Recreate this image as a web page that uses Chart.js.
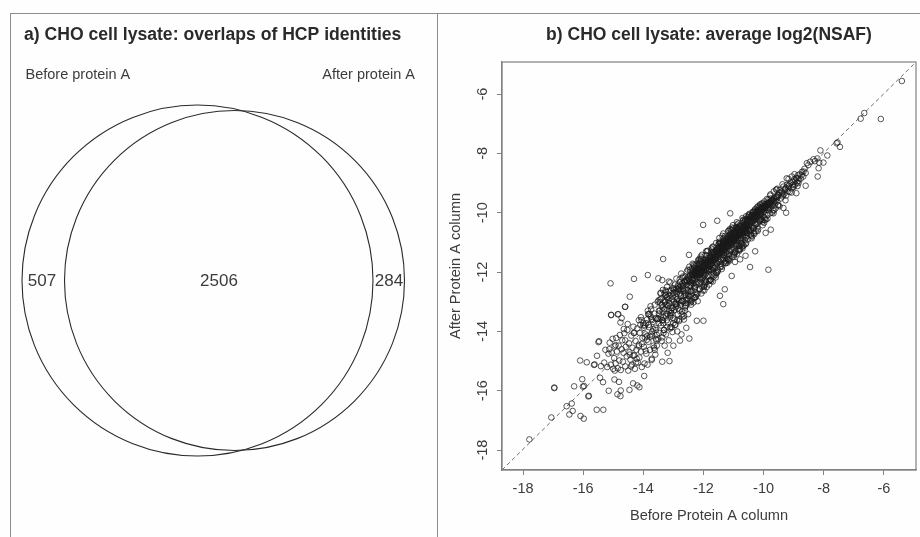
<!DOCTYPE html>
<html>
<head>
<meta charset="utf-8">
<title>CHO cell lysate</title>
<script src="https://cdn.jsdelivr.net/npm/chart.js@4/dist/chart.umd.min.js"></script>
<style>
    body { margin: 0; background: #fefefe; }
    #frame { position: absolute; left: 10px; top: 13px; width: 426px; height: 524px; border: 1px solid #8c8c8c; border-bottom: none; }
    #topline { position: absolute; left: 437px; top: 13px; width: 483px; height: 1px; background: #8c8c8c; }
    canvas { position: absolute; top: 0; }
    #venn { left: 0; }
    #scatter { left: 438px; }
</style>
</head>
<body>
<div id="frame"></div>
<div id="topline"></div>
<canvas id="venn" width="437" height="537"></canvas>
<canvas id="scatter" width="482" height="537"></canvas>
<script>
"use strict";
const vennTitle = "a) CHO cell lysate: overlaps of HCP identities";
const vennSetNames = ["Before protein A", "After protein A"];
const vennCounts = [507, 2506, 284];

const scatterTitle = "b) CHO cell lysate: average log2(NSAF)";
const xAxisName = "Before Protein A column";
const yAxisName = "After Protein A column";
const xTicks = [-18, -16, -14, -12, -10, -8, -6];
const yTicks = [-18, -16, -14, -12, -10, -8, -6];
const lineX = [-18.7, -4.93];
const lineY = [-18.67, -4.92];

// stray points, read one by one
const strayX = [-17.79,-17.06,-16.96,-16.96,-16.55,-16.38,-16.35,-16.46,-16.09,-15.98,-15.83,-15.81,
    -16.30,-16.01,-15.97,-16.03,-16.10,-15.88,-15.64,-15.62,-15.41,-15.54,-15.44,-15.34,
    -15.15,-15.55,-15.33,-14.86,-14.75,-14.76,-14.96,-14.81,-14.46,-14.34,-14.20,-14.13,
    -13.97,-14.95,-15.49,-15.47,-15.07,-14.85,-14.60,-13.37,-13.13,-12.47,-13.19,-13.72,
    -13.00,-12.78,-12.22,-12.00,-5.40,-6.65,-6.77,-6.10,-7.57,-7.54,-7.46,-8.11,
    -7.88,-8.21,-8.29,-8.45,-8.56,-8.15,-8.01,-8.17,-8.20,-8.34,-8.51,-8.67,
    -8.73,-8.60,-8.91,-9.23,-9.06,-8.90,-8.84,-9.01,-9.17,-9.29,-9.54,-9.36,
    -9.25,-9.34,-11.11,-11.54,-12.01,-9.76,-9.93,-10.45,-9.84,-13.34,-13.85,-14.31,
    -13.50,-13.37,-12.48,-14.45,-12.11,-10.28,-10.78,-10.95,-11.06,-11.29,-11.34,-11.45,
    -15.09,-15.07,-14.83,-14.61,-14.72,-15.13,-10.70,-10.60];
const strayY = [-17.64,-16.90,-15.91,-15.89,-16.52,-16.43,-16.68,-16.80,-16.85,-16.94,-16.19,-16.17,
    -15.85,-15.86,-15.84,-15.61,-14.98,-15.04,-15.13,-15.11,-15.17,-14.82,-15.56,-15.71,
    -16.00,-16.64,-16.64,-16.12,-15.99,-16.18,-15.62,-15.70,-15.97,-15.75,-15.82,-15.88,
    -15.50,-15.32,-14.36,-14.33,-13.45,-13.42,-13.17,-15.02,-15.00,-14.24,-14.72,-14.96,
    -14.48,-14.31,-13.64,-13.64,-5.56,-6.64,-6.83,-6.84,-7.66,-7.63,-7.78,-7.90,
    -8.07,-8.17,-8.26,-8.28,-8.33,-8.31,-8.31,-8.50,-8.78,-8.20,-8.39,-8.61,
    -8.73,-9.09,-9.34,-8.84,-8.78,-8.84,-9.00,-9.12,-9.17,-9.23,-9.19,-9.40,
    -10.00,-9.84,-10.02,-10.27,-10.41,-10.57,-10.68,-11.83,-11.92,-11.56,-12.10,-12.23,
    -12.21,-12.27,-11.42,-12.83,-10.96,-11.30,-11.57,-11.66,-12.13,-12.58,-13.08,-12.80,
    -12.38,-13.44,-13.42,-13.17,-13.55,-14.60,-11.20,-11.45];

// lower end of the cloud
const lowX = [-15.30,-15.26,-15.20,-15.16,-15.12,-15.08,-15.05,-15.02,-15.00,-14.97,-14.95,-14.92,
    -14.90,-14.88,-14.85,-14.82,-14.80,-14.78,-14.75,-14.72,-14.70,-14.68,-14.66,-14.63,
    -14.60,-14.58,-14.55,-14.53,-14.50,-14.48,-14.46,-14.43,-14.40,-14.38,-14.36,-14.33,
    -14.30,-14.28,-14.26,-14.23,-14.20,-14.18,-14.15,-14.13,-14.10,-14.08,-14.05,-14.03,
    -14.00,-13.98,-13.96,-13.93,-13.90,-13.88,-13.86,-13.83,-13.80,-13.78,-13.75,-13.72,
    -13.70,-13.68,-13.66,-13.63,-13.60,-13.58,-13.56,-13.53,-14.92,-14.65,-14.41,-14.24,
    -14.12,-13.95,-13.84,-13.74,-13.64,-13.55,-14.76,-14.52,-14.33,-14.06,-13.91,-13.77];
const lowY = [-15.05,-14.62,-15.20,-14.75,-14.38,-15.12,-14.71,-14.25,-15.26,-14.90,-14.50,-15.08,
    -14.22,-14.68,-15.24,-14.48,-14.98,-14.12,-15.30,-14.60,-14.30,-15.02,-14.72,-14.06,
    -15.18,-14.52,-14.84,-13.95,-15.32,-14.40,-14.70,-14.95,-14.14,-15.12,-14.55,-13.84,
    -14.80,-15.26,-14.32,-14.62,-13.90,-15.05,-14.45,-14.88,-13.78,-14.68,-15.20,-14.22,
    -13.72,-14.52,-15.08,-14.10,-14.75,-13.60,-15.12,-14.35,-13.86,-14.62,-13.50,-14.92,
    -14.15,-13.68,-14.48,-13.40,-14.78,-13.95,-14.30,-13.58,-14.46,-13.92,-15.18,-15.05,
    -14.05,-13.80,-13.42,-13.26,-14.55,-14.12,-13.70,-13.75,-14.82,-13.62,-13.72,-14.18];

// widening part of the band
const midAX = [-13.52,-13.49,-13.47,-13.45,-13.43,-13.41,-13.39,-13.37,-13.35,-13.33,-13.31,-13.29,
    -13.27,-13.25,-13.23,-13.21,-13.19,-13.17,-13.15,-13.13,-13.11,-13.09,-13.07,-13.05,
    -13.03,-13.01,-12.99,-12.97,-12.95,-12.93,-12.91,-12.89,-12.87,-12.85,-12.83,-12.81,
    -12.79,-12.77,-12.75,-12.73,-12.71,-12.69,-12.67,-12.65,-12.63,-12.61,-12.59,-12.57,
    -12.55,-12.53,-12.51,-13.44,-13.38,-13.30,-13.24,-13.16,-13.10,-13.02,-12.96,-12.90,
    -12.84,-12.78,-12.72,-12.66,-12.60,-12.54,-13.48,-13.34,-13.20,-13.06,-12.94,-12.80,
    -12.68,-12.56,-13.42,-13.26,-13.12,-12.98,-12.86,-12.74,-12.62,-12.52,-13.36,-13.18,
    -13.04,-12.92,-12.76,-12.64,-12.50,-13.28,-13.14,-13.00,-12.88,-12.70,-12.58,-13.22];
const midAY = [-13.58,-12.95,-14.05,-13.30,-12.72,-13.80,-13.12,-14.20,-12.60,-13.52,-13.95,-13.02,
    -12.78,-14.10,-13.40,-12.50,-13.70,-13.15,-14.30,-12.88,-13.45,-13.85,-12.62,-13.22,
    -14.02,-13.55,-12.70,-13.28,-12.42,-13.78,-13.05,-12.92,-14.00,-13.42,-12.58,-13.65,
    -12.25,-13.10,-12.80,-14.10,-13.32,-12.48,-12.98,-13.60,-12.30,-13.20,-12.72,-13.88,
    -12.42,-13.05,-13.42,-13.02,-13.62,-13.25,-12.66,-13.12,-13.50,-12.82,-13.60,-12.55,
    -13.22,-12.72,-13.42,-12.65,-13.05,-12.30,-13.40,-13.72,-12.85,-13.38,-13.08,-13.30,
    -12.55,-12.92,-13.52,-13.10,-12.62,-13.00,-12.90,-12.48,-12.78,-12.60,-13.20,-13.42,
    -12.92,-13.18,-12.60,-13.48,-12.80,-12.98,-13.30,-12.55,-12.72,-12.38,-13.12,-13.62];

const midBX = [-12.49,-12.47,-12.45,-12.43,-12.41,-12.39,-12.37,-12.35,-12.33,-12.31,-12.29,-12.27,
    -12.25,-12.23,-12.21,-12.19,-12.17,-12.15,-12.13,-12.11,-12.09,-12.07,-12.05,-12.03,
    -12.01,-11.99,-11.97,-11.95,-11.93,-11.91,-11.89,-11.87,-11.85,-11.83,-11.81,-11.79,
    -11.77,-11.75,-11.73,-11.71,-11.69,-11.67,-11.65,-11.63,-11.61,-11.59,-11.57,-11.55,
    -11.53,-11.51,-12.46,-12.42,-12.38,-12.34,-12.30,-12.26,-12.22,-12.18,-12.14,-12.10,
    -12.06,-12.02,-11.98,-11.94,-11.90,-11.86,-11.82,-11.78,-11.74,-11.70,-11.66,-11.62,
    -11.58,-11.54,-12.48,-12.40,-12.32,-12.24,-12.16,-12.08,-12.00,-11.92,-11.84,-11.76,
    -11.68,-11.60,-11.52,-12.44,-12.36,-12.28,-12.20,-12.12,-12.04,-11.96,-11.88,-11.80,
    -11.72,-11.64,-11.56,-12.41,-12.33,-12.25,-12.17,-12.09,-12.01,-11.93,-11.85,-11.77,
    -11.69,-11.61,-11.53,-12.37,-12.29,-12.21,-12.13,-12.05,-11.97,-11.89,-11.81,-11.73];
const midBY = [-12.20,-12.82,-12.45,-11.98,-13.10,-12.62,-12.10,-12.38,-13.02,-11.85,-12.55,-12.25,
    -12.78,-11.72,-12.35,-12.98,-12.05,-11.90,-12.58,-12.22,-11.65,-12.72,-12.02,-12.40,
    -11.82,-12.10,-12.62,-11.70,-12.28,-11.55,-12.50,-11.95,-12.15,-11.62,-12.42,-11.80,
    -11.48,-12.25,-11.92,-11.70,-12.32,-11.58,-12.05,-11.42,-11.85,-12.18,-11.50,-11.72,
    -11.98,-11.35,-12.32,-12.48,-12.15,-12.28,-12.02,-12.36,-11.88,-12.08,-12.18,-11.92,
    -12.02,-11.80,-11.95,-11.74,-11.88,-11.68,-11.82,-11.58,-11.72,-11.52,-11.62,-11.44,
    -11.55,-11.30,-12.48,-12.22,-12.10,-12.00,-12.10,-11.88,-11.86,-11.78,-11.72,-11.62,
    -11.55,-11.50,-11.40,-12.12,-12.28,-12.06,-12.16,-11.98,-11.95,-11.82,-11.76,-11.66,
    -11.48,-11.58,-11.38,-12.38,-12.18,-12.12,-11.94,-12.06,-11.80,-11.92,-11.64,-11.74,
    -11.42,-11.66,-11.32,-12.25,-11.96,-12.02,-12.10,-11.84,-12.00,-11.70,-11.90,-11.56];

// dense core of the band
const coreAX = [-11.50,-11.48,-11.46,-11.44,-11.42,-11.40,-11.38,-11.36,-11.34,-11.32,-11.30,-11.28,
    -11.26,-11.24,-11.22,-11.20,-11.18,-11.16,-11.14,-11.12,-11.10,-11.08,-11.06,-11.04,
    -11.02,-11.00,-10.98,-10.96,-10.94,-10.92,-10.90,-10.88,-10.86,-10.84,-10.82,-10.80,
    -10.78,-10.76,-10.74,-10.72,-10.70,-10.68,-10.66,-10.64,-10.62,-10.60,-10.58,-10.56,
    -10.54,-10.52,-11.49,-11.45,-11.41,-11.37,-11.33,-11.29,-11.25,-11.21,-11.17,-11.13,
    -11.09,-11.05,-11.01,-10.97,-10.93,-10.89,-10.85,-10.81,-10.77,-10.73,-10.69,-10.65,
    -10.61,-10.57,-10.53,-11.47,-11.43,-11.39,-11.35,-11.31,-11.27,-11.23,-11.19,-11.15,
    -11.11,-11.07,-11.03,-10.99,-10.95,-10.91,-10.87,-10.83,-10.79,-10.75,-10.71,-10.67,
    -10.63,-10.59,-10.55,-10.51,-11.44,-11.36,-11.28,-11.20,-11.12,-11.04,-10.96,-10.88,
    -10.80,-10.72,-10.64,-10.56,-11.40,-11.32,-11.24,-11.16,-11.08,-11.00,-10.92,-10.84,
    -10.76,-10.68,-10.60,-10.52,-11.42,-11.34,-11.26,-11.18,-11.10,-11.02,-10.94,-10.86];
const coreAY = [-11.20,-11.62,-11.05,-11.48,-11.72,-11.15,-11.35,-11.58,-10.98,-11.42,-11.22,-11.70,
    -11.02,-11.30,-11.50,-10.88,-11.12,-11.40,-11.62,-10.95,-11.25,-10.78,-11.08,-11.48,
    -10.72,-11.18,-10.90,-11.32,-10.65,-11.05,-10.80,-11.38,-10.58,-10.92,-11.12,-10.70,
    -10.45,-10.85,-11.02,-10.60,-10.78,-11.10,-10.48,-10.68,-10.92,-10.38,-10.62,-10.80,
    -10.30,-10.55,-11.30,-11.18,-11.42,-11.08,-11.25,-11.12,-11.35,-11.00,-11.15,-10.92,
    -11.05,-10.86,-10.98,-10.80,-10.90,-10.72,-10.84,-10.66,-10.76,-10.60,-10.70,-10.52,
    -10.62,-10.46,-10.56,-11.38,-11.26,-11.22,-11.10,-11.18,-11.04,-11.10,-10.94,-11.02,
    -10.88,-10.96,-10.82,-10.90,-10.74,-10.82,-10.68,-10.76,-10.60,-10.68,-10.54,-10.62,
    -10.48,-10.56,-10.42,-10.50,-11.34,-11.16,-11.24,-11.06,-11.00,-10.92,-10.86,-10.78,
    -10.72,-10.64,-10.58,-10.50,-11.28,-11.20,-11.14,-10.98,-10.88,-10.84,-10.70,-10.74,
    -10.56,-10.58,-10.44,-10.42,-11.12,-11.04,-10.90,-10.84,-10.76,-10.70,-10.62,-10.58];

const coreBX = [-10.50,-10.47,-10.44,-10.41,-10.38,-10.35,-10.32,-10.29,-10.26,-10.23,-10.20,-10.17,
    -10.14,-10.11,-10.08,-10.05,-10.02,-9.99,-9.96,-9.93,-9.90,-9.87,-9.84,-9.81,
    -9.78,-9.75,-9.72,-9.69,-9.66,-9.63,-9.60,-9.57,-9.54,-9.51,-10.48,-10.42,
    -10.36,-10.30,-10.24,-10.18,-10.12,-10.06,-10.00,-9.94,-9.88,-9.82,-9.76,-9.70,
    -9.64,-9.58,-9.52,-10.45,-10.39,-10.33,-10.27,-10.21,-10.15,-10.09,-10.03,-9.97,
    -9.91,-9.85,-9.79,-9.73,-9.67,-9.61,-9.55,-10.46,-10.37,-10.28,-10.19,-10.10,
    -10.01,-9.92,-9.83,-9.74,-9.65,-9.56,-10.40,-10.31,-10.22,-10.13,-10.04,-9.95];
const coreBY = [-10.22,-10.62,-10.15,-10.48,-10.08,-10.30,-10.52,-9.98,-10.20,-10.38,-9.92,-10.12,
    -10.30,-9.84,-10.05,-10.25,-9.78,-9.98,-10.18,-9.72,-9.90,-10.08,-9.66,-9.85,
    -10.02,-9.60,-9.78,-9.92,-9.52,-9.72,-9.85,-9.45,-9.62,-9.75,-10.40,-10.30,
    -10.22,-10.14,-10.06,-10.02,-9.96,-9.90,-9.84,-9.80,-9.74,-9.68,-9.62,-9.56,
    -9.50,-9.48,-9.42,-10.34,-10.18,-10.26,-10.04,-10.12,-9.94,-10.02,-9.88,-9.92,
    -9.76,-9.82,-9.70,-9.66,-9.58,-9.60,-9.46,-10.28,-10.10,-10.10,-9.92,-9.96,
    -9.80,-9.84,-9.74,-9.72,-9.64,-9.52,-10.24,-10.16,-10.08,-10.00,-9.94,-9.86];

const highX = [-9.50,-9.46,-9.43,-9.40,-9.37,-9.34,-9.31,-9.28,-9.25,-9.22,-9.19,-9.16,
    -9.13,-9.10,-9.07,-9.04,-9.01,-8.98,-8.95,-8.92,-8.89,-8.86,-8.83,-8.80,
    -8.76,-8.72,-8.68,-8.64,-8.60,-9.48,-9.38,-9.26,-9.14,-9.02,-8.94,-8.84];
const highY = [-9.40,-9.24,-9.52,-9.30,-9.45,-9.12,-9.36,-9.20,-9.42,-9.06,-9.28,-9.10,
    -9.30,-8.98,-9.18,-8.96,-9.14,-8.88,-9.05,-8.82,-8.98,-8.74,-8.92,-8.70,
    -8.85,-8.62,-8.78,-8.52,-8.66,-9.32,-9.34,-9.16,-9.04,-9.06,-8.92,-8.84];

// points on the edges of the band, and more filler for the dark middle
const wideX = [-13.42,-12.88,-13.15,-12.61,-13.33,-12.74,-13.05,-12.52,-13.26,-12.95,-12.68,-13.11,
    -12.47,-12.31,-12.18,-12.40,-12.09,-12.26,-11.95,-12.36,-12.02,-11.86,-12.13,-11.74,
    -12.44,-11.58,-11.91,-12.21,-11.66,-12.05,-11.79,-12.33,-11.52,-11.98,-12.15,-11.70,
    -11.47,-11.32,-11.18,-11.41,-11.05,-11.26,-10.92,-11.37,-10.98,-10.84,-11.12,-10.72,
    -11.44,-10.58,-10.89,-11.21,-10.66,-11.02,-10.78,-11.34,-10.52,-10.95,-11.15,-10.70,
    -10.47,-10.32,-10.18,-10.41,-10.05,-10.26,-9.92,-10.37,-9.98,-9.84,-10.12,-9.72,
    -9.65,-10.44,-9.58,-9.89,-10.21,-9.66,-10.02,-9.78,-10.34,-9.52,-9.95,-10.15,
    -14.15,-13.92,-13.76,-13.58,-13.44,-13.31,-14.05,-13.85,-13.67,-13.52,-13.39,-13.24,
    -14.32,-14.08,-13.88,-13.71,-13.55,-13.37,-14.22,-13.98,-13.79,-13.62,-13.46,-13.29];
const wideY = [-12.70,-13.62,-12.32,-13.30,-14.05,-12.05,-13.86,-11.92,-12.62,-13.78,-12.15,-13.90,
    -11.82,-12.88,-11.60,-12.98,-11.48,-12.85,-12.42,-11.72,-12.62,-11.28,-11.55,-12.30,
    -12.96,-11.02,-11.30,-12.75,-12.15,-11.42,-12.28,-11.75,-11.92,-12.50,-11.60,-11.16,
    -10.85,-11.68,-10.62,-11.78,-10.50,-11.62,-11.28,-10.78,-11.38,-10.36,-10.55,-11.05,
    -11.84,-10.12,-10.32,-11.55,-11.10,-10.42,-11.12,-10.70,-10.90,-11.36,-10.60,-10.18,
    -10.08,-10.68,-9.78,-10.78,-9.68,-10.62,-10.22,-9.98,-10.34,-9.55,-9.72,-10.00,
    -9.92,-10.72,-9.22,-9.54,-10.50,-9.28,-10.30,-9.42,-9.96,-9.74,-10.24,-9.82,
    -13.62,-14.65,-13.15,-14.25,-12.92,-13.95,-14.42,-13.30,-13.92,-13.00,-14.32,-12.78,
    -14.05,-13.52,-14.28,-13.62,-14.48,-13.10,-14.92,-13.88,-13.40,-14.62,-13.58,-14.48];

const fillX = [-12.92,-12.36,-11.83,-11.27,-10.74,-10.21,-12.66,-12.11,-11.55,-11.03,-10.48,-9.88,
    -13.08,-12.52,-11.97,-11.41,-10.86,-10.34,-12.79,-12.24,-11.68,-11.13,-10.61,-10.07,
    -12.98,-12.43,-11.88,-11.34,-10.81,-10.28,-12.71,-12.17,-11.61,-11.08,-10.55,-10.01,
    -13.22,-12.58,-12.03,-11.48,-10.93,-10.39,-12.85,-12.29,-11.74,-11.19,-10.66,-10.12,
    -13.01,-12.48,-11.93,-11.38,-10.83,-10.31,-12.76,-12.22,-11.66,-11.11,-10.58,-10.04,
    -12.83,-12.27,-11.72,-11.16,-10.63,-10.09,-12.56,-12.01,-11.46,-10.91,-10.37,-9.83,
    -13.12,-12.62,-12.07,-11.52,-10.97,-10.44,-12.89,-12.33,-11.78,-11.23,-10.69,-10.16,
    -12.73,-12.19,-11.64,-11.09,-10.56,-10.02,-12.46,-11.92,-11.36,-10.82,-10.29,-9.76,
    -13.03,-12.51,-11.96,-11.42,-10.87,-10.35,-12.80,-12.25,-11.70,-11.14,-10.62,-10.08,
    -12.68,-12.14,-11.59,-11.06,-10.53,-9.99,-12.41,-11.86,-11.31,-10.77,-10.24,-9.71,
    -12.90,-12.37,-11.82,-11.29,-10.76,-10.23,-12.63,-12.09,-11.54,-11.01,-10.47,-9.94,
    -13.18,-12.57,-12.04,-11.50,-10.96,-10.42,-12.84,-12.30,-11.75,-11.22,-10.67,-10.14,
    -12.78,-12.23,-11.69,-11.17,-10.64,-10.10,-12.49,-11.94,-11.40,-10.85,-10.33,-9.81];
const fillY = [-12.66,-12.02,-11.95,-10.96,-10.88,-10.02,-12.82,-11.72,-11.70,-10.68,-10.58,-9.68,
    -13.30,-12.18,-12.12,-11.05,-11.02,-9.98,-12.52,-12.42,-11.32,-11.28,-10.26,-10.20,
    -12.60,-12.65,-11.58,-11.52,-10.44,-10.40,-12.98,-11.85,-11.78,-10.72,-10.68,-9.70,
    -12.85,-12.78,-11.72,-11.22,-11.06,-10.08,-12.45,-12.02,-11.92,-10.85,-10.34,-10.28,
    -12.72,-12.24,-12.08,-11.12,-10.62,-10.46,-13.02,-11.96,-11.48,-11.02,-10.38,-9.82,
    -12.48,-12.50,-11.38,-11.30,-10.30,-10.22,-12.26,-12.18,-11.14,-10.94,-10.12,-9.92,
    -12.80,-12.32,-12.26,-11.18,-11.10,-10.14,-13.12,-12.08,-11.52,-11.00,-10.84,-9.92,
    -12.95,-11.90,-11.88,-10.82,-10.68,-9.78,-12.12,-12.04,-11.06,-10.50,-10.10,-9.52,
    -12.55,-12.72,-11.66,-11.58,-10.56,-10.52,-12.62,-11.94,-11.86,-10.78,-10.48,-9.88,
    -12.44,-12.36,-11.26,-11.22,-10.28,-10.14,-12.66,-11.60,-11.44,-10.46,-10.36,-9.58,
    -13.08,-12.06,-11.98,-10.98,-10.92,-9.94,-12.36,-11.82,-11.24,-10.86,-10.26,-9.78,
    -12.92,-12.28,-12.20,-11.34,-10.70,-10.58,-12.58,-12.46,-11.46,-11.08,-10.42,-10.24,
    -12.34,-12.04,-11.82,-10.90,-10.80,-9.86,-12.66,-11.68,-11.30,-10.66,-10.20,-9.64];

const edgeX = [-12.55,-12.42,-12.30,-12.20,-12.08,-11.98,-11.88,-11.78,-11.68,-11.58,-11.48,-11.38,
    -11.28,-11.18,-11.08,-10.98,-10.88,-10.78,-10.68,-10.58,-10.48,-10.38,-10.28,-10.18,
    -12.50,-12.38,-12.27,-12.15,-12.04,-11.93,-11.81,-11.71,-11.60,-11.50,-11.39,-11.29,
    -11.20,-11.10,-10.99,-10.90,-10.80,-10.69,-10.60,-10.50,-10.40,-10.30,-10.20,-10.10,
    -12.34,-12.12,-11.90,-11.70,-11.47,-11.25,-11.03,-10.83,-10.62,-10.42,-10.22,-10.03,
    -12.60,-12.39,-12.17,-11.96,-11.75,-11.53,-11.33,-11.13,-10.91,-10.71,-10.51,-10.31,
    -12.70,-12.60,-12.45,-12.28,-12.10,-11.92,-11.73,-11.56,-11.35,-11.17,-10.99,-10.80,
    -9.97,-9.87,-9.77,-9.67,-9.57,-9.47,-9.37,-9.27,-9.17,-9.07,-8.97,-8.87,
    -13.10,-13.00,-12.90,-12.80,-12.70,-13.30,-13.20,-13.40,-13.50,-13.62,-13.75,-13.82,
    -13.95,-13.82,-13.70,-13.58,-13.47,-13.36,-13.25,-13.14,-13.03,-12.92,-12.81,-12.70,
    -14.60,-14.45,-14.30,-14.15,-14.00,-13.87,-13.73,-13.60,-13.48,-13.35,-13.22,-13.09,
    -11.45,-11.30,-11.15,-11.00,-10.85,-10.70,-10.55,-10.40,-10.25,-10.10,-9.95,-9.80,
    -12.25,-12.10,-11.95,-11.80,-11.65,-11.50,-11.35,-11.20,-11.05,-10.90,-10.75,-10.60,
    -11.90,-11.76,-11.62,-11.46,-11.33,-11.19,-11.06,-10.92,-10.79,-10.65,-12.05,-12.18,
    -11.84,-11.70,-11.57,-11.43,-11.30,-11.16,-11.03,-10.89,-10.74,-10.61,-12.11,-12.24,
    -11.79,-11.65,-11.51,-11.37,-11.24,-11.11,-10.97,-10.83,-10.70,-10.57,-12.00,-12.30];
const edgeY = [-11.98,-13.02,-11.78,-12.72,-11.55,-12.46,-11.30,-12.26,-11.14,-12.02,-10.98,-11.82,
    -10.78,-11.60,-10.58,-11.42,-10.40,-11.22,-10.24,-11.02,-10.04,-10.80,-9.88,-10.56,
    -12.92,-11.88,-12.68,-11.70,-12.50,-11.42,-12.30,-11.24,-12.10,-11.06,-11.90,-10.84,
    -11.68,-10.68,-11.48,-10.48,-11.24,-10.28,-11.06,-10.08,-10.86,-9.92,-10.62,-9.74,
    -11.95,-12.58,-11.45,-12.12,-11.02,-11.70,-10.58,-11.25,-10.22,-10.74,-9.82,-10.42,
    -12.15,-12.90,-11.78,-12.38,-11.34,-11.98,-10.94,-11.55,-10.50,-11.15,-10.14,-10.72,
    -12.20,-13.15,-11.92,-12.85,-11.62,-12.34,-11.20,-12.04,-10.88,-11.58,-10.52,-11.28,
    -9.62,-10.20,-9.38,-10.02,-9.22,-9.78,-9.04,-9.58,-8.86,-9.32,-8.70,-9.10,
    -12.35,-13.72,-12.22,-13.60,-13.52,-12.72,-13.85,-12.90,-14.25,-13.10,-14.10,-13.42,
    -14.20,-13.78,-14.00,-13.55,-13.72,-13.32,-13.48,-13.05,-13.20,-12.82,-12.98,-12.58,
    -14.30,-14.78,-14.05,-14.50,-13.80,-14.15,-13.58,-13.88,-13.30,-13.62,-13.10,-13.38,
    -11.02,-11.16,-10.76,-10.88,-10.50,-10.60,-10.22,-10.30,-9.98,-10.04,-9.72,-9.74,
    -11.80,-12.18,-11.60,-11.92,-11.34,-11.66,-11.02,-11.40,-10.78,-11.12,-10.50,-10.84,
    -11.70,-11.48,-11.58,-11.26,-11.20,-10.98,-11.02,-10.72,-10.70,-10.46,-11.92,-11.95,
    -11.52,-11.60,-11.30,-11.36,-11.04,-11.12,-10.84,-10.84,-10.56,-10.58,-11.88,-12.10,
    -11.64,-11.38,-11.42,-11.14,-11.16,-10.88,-10.94,-10.66,-10.68,-10.40,-11.76,-12.00];

const beforeValues = [...strayX, ...lowX, ...midAX, ...midBX, ...coreAX, ...coreBX, ...highX, ...wideX, ...fillX, ...edgeX];
const afterValues = [...strayY, ...lowY, ...midAY, ...midBY, ...coreAY, ...coreBY, ...highY, ...wideY, ...fillY, ...edgeY];

// venn circles and labels sit in the left panel's own coordinates
const vennScaleX = {min: 24, max: 437};
const vennScaleY = {min: 62, max: 537};

const textColor = "#3c3c3c";
const axisColor = "#808080";
const fontFamily = "'Liberation Sans', Arial, sans-serif";

const vennLabels = {
    id: "vennLabels",
    afterDraw(chart) {
        const ctx = chart.ctx;
        const sx = chart.scales.x;
        const sy = chart.scales.y;
        ctx.save();
        ctx.fillStyle = textColor;
        ctx.textBaseline = "middle";
        ctx.font = "14.5px " + fontFamily;
        ctx.textAlign = "left";
        ctx.fillText(vennSetNames[0], sx.getPixelForValue(25.5), 75);
        ctx.textAlign = "right";
        ctx.fillText(vennSetNames[1], sx.getPixelForValue(415), 75);
        ctx.font = "17px " + fontFamily;
        ctx.textAlign = "center";
        const countAt = [42, 219, 389];
        vennCounts.forEach((n, i) => {
            ctx.fillText(String(n), sx.getPixelForValue(countAt[i]), sy.getPixelForValue(281));
        });
        ctx.restore();
    }
};

new Chart(document.getElementById("venn"), {
    type: "bubble",
    plugins: [vennLabels],
    data: {
        datasets: [{
            data: [{x: 197.5, y: 280.5, r: 175.5}, {x: 234.5, y: 280.5, r: 170}],
            backgroundColor: "rgba(0,0,0,0)",
            borderColor: "#2a2a2a",
            borderWidth: 1.1,
            hoverRadius: 0,
            clip: false
        }]
    },
    options: {
        responsive: false,
        animation: false,
        events: [],
        layout: {autoPadding: false, padding: {left: 24}},
        scales: {
            x: {type: "linear", display: false, min: vennScaleX.min, max: vennScaleX.max},
            y: {type: "linear", display: false, reverse: true, min: vennScaleY.min, max: vennScaleY.max}
        },
        plugins: {
            legend: {display: false},
            tooltip: {enabled: false},
            title: {
                display: true,
                text: vennTitle,
                align: "start",
                fullSize: false,
                color: "#2a2a2a",
                font: {family: fontFamily, size: 17.6, weight: "bold"},
                padding: {top: 24.5, bottom: 16.5}
            }
        }
    }
});

const plotBox = {
    id: "plotBox",
    afterDatasetsDraw(chart) {
        const a = chart.chartArea;
        const ctx = chart.ctx;
        ctx.save();
        ctx.strokeStyle = axisColor;
        ctx.lineWidth = 1.2;
        ctx.strokeRect(a.left, a.top, a.right - a.left, a.bottom - a.top);
        ctx.restore();
    }
};

new Chart(document.getElementById("scatter"), {
    type: "scatter",
    plugins: [plotBox],
    data: {
        datasets: [{
            data: beforeValues.map((v, i) => ({x: v, y: afterValues[i]})),
            pointStyle: "circle",
            pointRadius: 2.8,
            pointBorderWidth: 1,
            pointBackgroundColor: "rgba(0,0,0,0)",
            pointBorderColor: "rgba(25,25,25,0.72)"
        }, {
            data: lineX.map((v, i) => ({x: v, y: lineY[i]})),
            showLine: true,
            pointRadius: 0,
            borderColor: "#6e6e6e",
            borderWidth: 1,
            borderDash: [4, 3]
        }]
    },
    options: {
        responsive: false,
        animation: false,
        events: [],
        layout: {autoPadding: false, padding: {right: 4}},
        scales: {
            x: {
                type: "linear",
                min: -18.7,
                max: -4.93,
                afterBuildTicks: s => { s.ticks = xTicks.map(v => ({value: v})); },
                afterFit: s => { s.height = 67; },
                border: {color: axisColor, width: 1.2},
                grid: {drawOnChartArea: false, tickColor: axisColor, tickLength: 5, tickWidth: 1},
                ticks: {color: textColor, padding: 5, maxRotation: 0, font: {family: fontFamily, size: 14.5}},
                title: {
                    display: true,
                    text: xAxisName,
                    color: textColor,
                    font: {family: fontFamily, size: 14.6},
                    padding: {top: 0, bottom: 12}
                }
            },
            y: {
                type: "linear",
                min: -18.67,
                max: -4.92,
                afterBuildTicks: s => { s.ticks = yTicks.map(v => ({value: v})); },
                afterFit: s => { s.width = 64; },
                border: {color: axisColor, width: 1.2},
                grid: {drawOnChartArea: false, tickColor: axisColor, tickLength: 5, tickWidth: 1},
                ticks: {color: textColor, padding: 4, minRotation: 90, maxRotation: 90, crossAlign: "center", font: {family: fontFamily, size: 14.5}},
                title: {
                    display: true,
                    text: yAxisName,
                    color: textColor,
                    font: {family: fontFamily, size: 14.6},
                    padding: {top: 9, bottom: 9}
                }
            }
        },
        plugins: {
            legend: {display: false},
            tooltip: {enabled: false},
            title: {
                display: true,
                text: scatterTitle,
                fullSize: false,
                color: "#2a2a2a",
                font: {family: fontFamily, size: 17.5, weight: "bold"},
                padding: {top: 24.5, bottom: 16.5}
            }
        }
    }
});
</script>
</body>
</html>
